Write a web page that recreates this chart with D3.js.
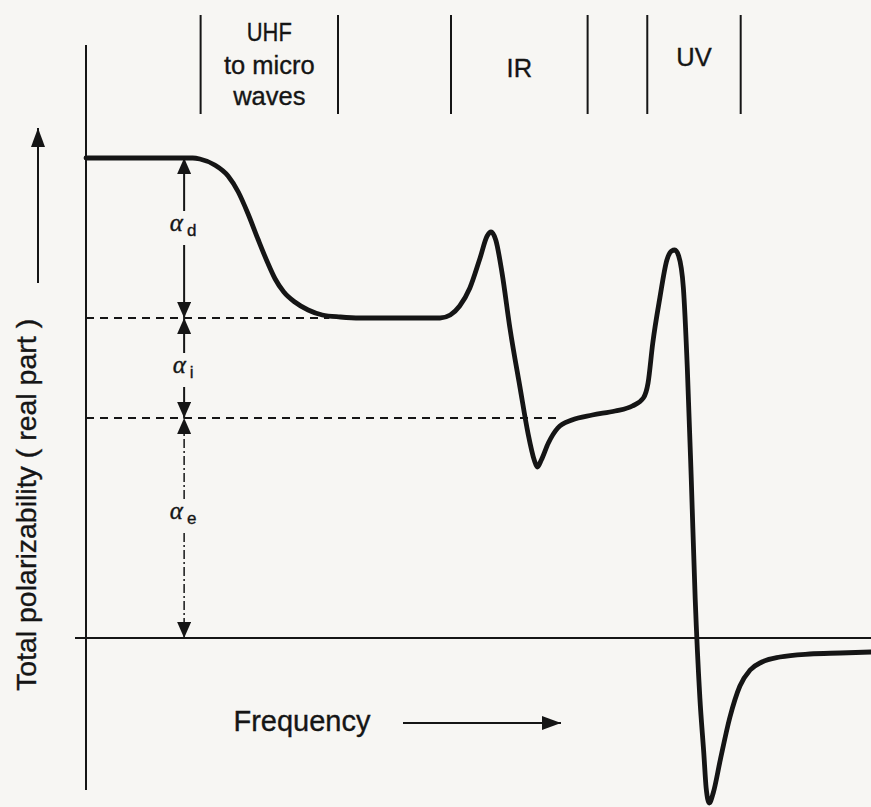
<!DOCTYPE html>
<html>
<head>
<meta charset="utf-8">
<script src="https://cdn.jsdelivr.net/npm/d3@7"></script>
<style>
  html, body { margin: 0; padding: 0; background: #f7f6f3; }
  svg { display: block; }
  text { font-family: "Liberation Sans", Arial, sans-serif; fill: #151515; stroke: #151515; stroke-width: 0.35; }
</style>
</head>
<body>
<svg id="chart" width="871" height="807"></svg>
<script>
// Frequency (arbitrary units, increasing to the right) and real part of total polarizability
const freq = [0.00, 0.82, 1.36, 1.45, 1.64, 1.81, 1.94, 2.06, 2.19, 2.31, 2.41, 2.52, 2.66, 2.83, 3.01,
  3.24, 3.49, 4.51, 4.64, 4.76, 4.89, 5.02, 5.11, 5.16, 5.22, 5.30, 5.40, 5.53, 5.63, 5.71, 5.75,
  5.80, 5.89, 6.01, 6.19, 6.45, 6.74, 6.96, 7.10, 7.16, 7.22, 7.31, 7.40, 7.46, 7.50, 7.55, 7.61,
  7.66, 7.71, 7.76, 7.82, 7.87, 7.90, 7.94, 7.99, 8.08, 8.20, 8.33, 8.46, 8.61, 8.84, 9.22, 9.61, 10.0];
const polar = [4.80, 4.80, 4.80, 4.79, 4.73, 4.62, 4.46, 4.25, 3.99, 3.76, 3.59, 3.46, 3.36, 3.28, 3.23,
  3.21, 3.20, 3.20, 3.23, 3.32, 3.50, 3.80, 4.02, 4.06, 3.98, 3.65, 3.10, 2.50, 2.05, 1.78, 1.71,
  1.78, 1.95, 2.10, 2.18, 2.23, 2.27, 2.32, 2.40, 2.55, 2.95, 3.40, 3.78, 3.87, 3.88, 3.82, 3.50,
  2.70, 1.60, 0.40, -0.60, -1.15, -1.50, -1.65, -1.55, -1.22, -0.80, -0.48, -0.32, -0.24, -0.19, -0.16, -0.15, -0.14];

// Contributions: dipolar, ionic, electronic (stacked levels)
const contribNames = ["d", "i", "e"];
const contribTop = [4.8, 3.2, 2.2];
const contribBottom = [3.2, 2.2, 0];
const dashedLevels = [3.2, 2.2];
const dashedEnds = [3.10, 6.00];

// Frequency band separators and labels
const bandEdges = [1.46, 3.21, 4.65, 6.39, 7.15, 8.34];
const bandLabels = [["UHF", "to micro", "waves"], ["IR"], ["UV"]];
const bandSpans = [[1.46, 3.21], [4.65, 6.39], [7.15, 8.34]];

const yTitle = "Total polarizability ( real part )";
const xTitle = "Frequency";

const svg = d3.select("#chart");
const x = d3.scaleLinear().domain([0, 10]).range([86, 871]);
const y = d3.scaleLinear().domain([0, 4.8]).range([638, 158]);
const ink = "#151515";

// arrow markers
const defs = svg.append("defs");
function marker(id, w, h) {
  defs.append("marker").attr("id", id)
    .attr("viewBox", `0 0 ${h} ${w}`).attr("refX", h).attr("refY", w / 2)
    .attr("markerWidth", h).attr("markerHeight", w).attr("markerUnits", "userSpaceOnUse")
    .attr("orient", "auto")
    .append("path").attr("d", `M0,0 L${h},${w / 2} L0,${w} Z`).attr("fill", ink);
}
marker("head", 14, 16);
marker("bigHead", 14, 19);

// axes
svg.append("line").attr("x1", x(0)).attr("x2", x(0)).attr("y1", 45).attr("y2", 790)
  .attr("stroke", ink).attr("stroke-width", 2);
svg.append("line").attr("x1", 75).attr("x2", x(10)).attr("y1", y(0)).attr("y2", y(0))
  .attr("stroke", ink).attr("stroke-width", 1.8);

// band separators
svg.selectAll("line.band").data(bandEdges).join("line").attr("class", "band")
  .attr("x1", d => x(d)).attr("x2", d => x(d)).attr("y1", 15).attr("y2", 114)
  .attr("stroke", ink).attr("stroke-width", 2);

// band labels
bandLabels.forEach((lines, i) => {
  const cx = x((bandSpans[i][0] + bandSpans[i][1]) / 2);
  const baseY = lines.length === 3 ? [41, 74, 105] : (i === 1 ? [77] : [66]);
  lines.forEach((t, j) => {
    const sx = t === "UHF" ? 0.86 : 1;
    svg.append("text").attr("x", 0).attr("y", 0)
      .attr("transform", `translate(${cx},${baseY[j]}) scale(${sx},1)`)
      .attr("text-anchor", "middle").attr("font-size", 25.5).text(t);
  });
});

// dashed level lines
svg.selectAll("line.level").data(dashedLevels).join("line").attr("class", "level")
  .attr("x1", x(0)).attr("x2", (d, i) => x(dashedEnds[i]))
  .attr("y1", d => y(d)).attr("y2", d => y(d))
  .attr("stroke", ink).attr("stroke-width", 2).attr("stroke-dasharray", "8,6");

// contribution arrows with labels
const ax = x(1.25);
const labelShift = [-10, 2, -12];
contribNames.forEach((name, i) => {
  const yt = y(contribTop[i]), yb = y(contribBottom[i]);
  const mid = (yt + yb) / 2 + labelShift[i];
  const gap = 17;
  const dash = i === 2 ? "9,3,2,3" : null;
  const sw = i === 2 ? 1.5 : 2;
  svg.append("line").attr("x1", ax).attr("x2", ax).attr("y1", mid - gap).attr("y2", yt)
    .attr("stroke", ink).attr("stroke-width", sw).attr("stroke-dasharray", dash)
    .attr("marker-end", "url(#head)");
  svg.append("line").attr("x1", ax).attr("x2", ax).attr("y1", mid + gap).attr("y2", yb)
    .attr("stroke", ink).attr("stroke-width", sw).attr("stroke-dasharray", dash)
    .attr("marker-end", "url(#head)");
  const lbl = svg.append("text").attr("x", ax - 1).attr("y", mid + 3).attr("text-anchor", "middle");
  lbl.append("tspan").attr("font-family", "Liberation Serif, serif").attr("font-style", "italic")
    .attr("font-size", 25).text("α");
  lbl.append("tspan").attr("dx", 4).attr("dy", 5).attr("font-size", 17).text(name);
});

// polarizability curve
const line = d3.line().x((d, i) => x(freq[i])).y(d => y(d)).curve(d3.curveMonotoneX);
svg.append("path").datum(polar).attr("d", line)
  .attr("fill", "none").attr("stroke", ink).attr("stroke-width", 4.8)
  .attr("stroke-linejoin", "round").attr("stroke-linecap", "round");

// y title with upward arrow
svg.append("text").attr("transform", "translate(36,505) rotate(-90)")
  .attr("text-anchor", "middle").attr("font-size", 28.5).text(yTitle);
svg.append("line").attr("x1", 38).attr("x2", 38).attr("y1", 283).attr("y2", 128)
  .attr("stroke", ink).attr("stroke-width", 2).attr("marker-end", "url(#bigHead)");

// x title with rightward arrow
svg.append("text").attr("x", 302).attr("y", 731).attr("text-anchor", "middle")
  .attr("font-size", 29).text(xTitle);
svg.append("line").attr("x1", 403).attr("x2", 561).attr("y1", 723).attr("y2", 723)
  .attr("stroke", ink).attr("stroke-width", 2).attr("marker-end", "url(#bigHead)");
</script>
</body>
</html>
